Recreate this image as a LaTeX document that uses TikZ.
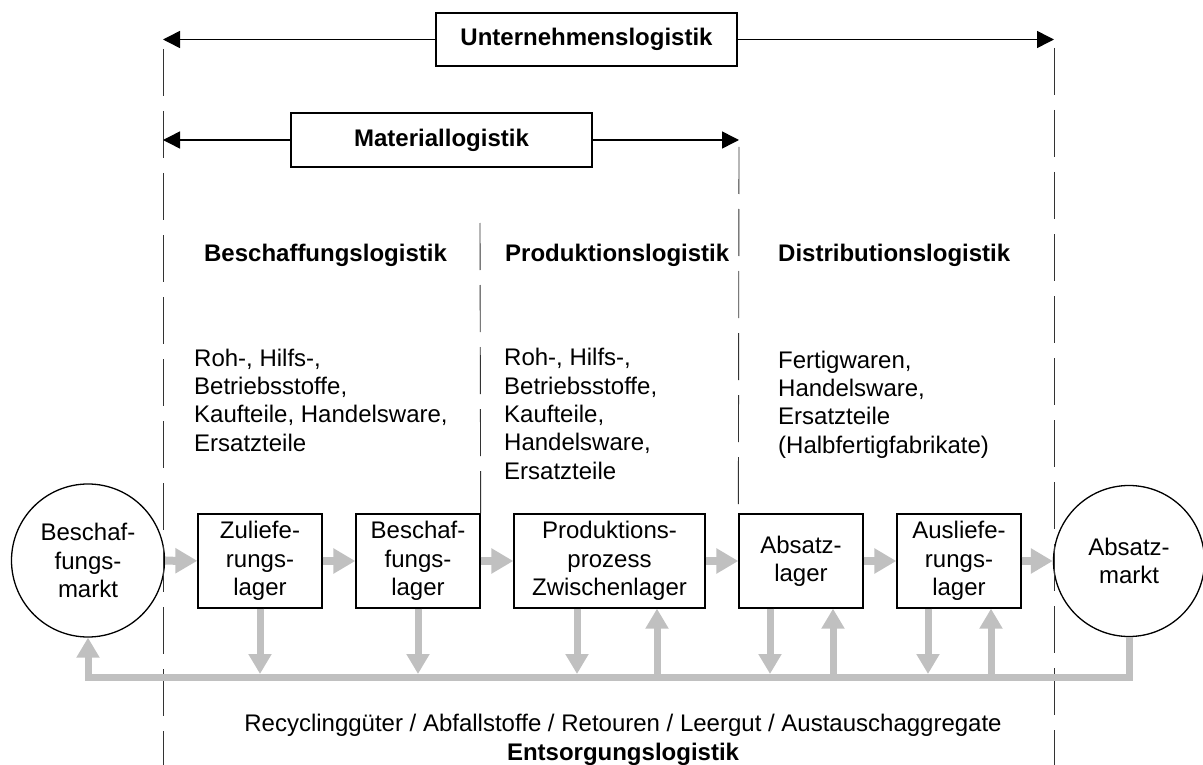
\documentclass[tikz,border=0pt]{standalone}
\usepackage{fontspec}
\setmainfont{Liberation Sans}
\usetikzlibrary{arrows.meta}
\definecolor{flowgray}{RGB}{192,192,192}
\begin{document}
\begin{tikzpicture}[x=1pt,y=-1pt,
  every node/.style={font=\fontsize{24}{28.3}\selectfont, inner sep=0pt},
  lbox/.style={draw, line width=1.3pt, minimum height=94pt, align=center},
  mkt/.style={draw, circle, line width=1.3pt, minimum size=153pt, align=center},
  titlebox/.style={draw, line width=1.3pt, minimum width=301pt, minimum height=53pt, font=\fontsize{24}{28}\selectfont\bfseries},
  span/.style={line width=1.5pt, -{Triangle[length=17pt,width=17pt]}},
  divider/.style={line width=0.9pt, black!80, dash pattern=on 47pt off 15pt},
  flow/.style={flowgray, line width=8pt, -{Triangle[length=22pt,width=24pt]}},
  ret/.style={flowgray, line width=7pt, -{Triangle[length=20pt,width=22pt]}},
  heading/.style={font=\fontsize{24}{28}\selectfont\bfseries},
  plain/.style={align=left}]

\useasboundingbox (0,0) rectangle (1203,765);

% dividers
\coordinate (dLt) at (163,49);
\coordinate (dLb) at (163,765);
\coordinate (dRt) at (1054,48);
\coordinate (dRb) at (1054,765);
\coordinate (dMt) at (739,147);
\coordinate (dBt) at (480,223);

% title boxes
\node[titlebox] (ul) at (586.5,39.5) {Unternehmenslogistik};
\node[titlebox, minimum height=54pt] (ml) at (441.5,140) {Materiallogistik};

% process boxes
\node[lbox, minimum width=124pt] (zl) at (260,561) {Zuliefe-\\rungs-\\lager};
\node[lbox, minimum width=124pt] (bl) at (418,561) {Beschaf-\\fungs-\\lager};
\node[lbox, minimum width=191pt] (pp) at (609.5,561) {Produktions-\\prozess\\Zwischenlager};
\node[lbox, minimum width=124pt] (ab) at (801,561) {Absatz-\\lager};
\node[lbox, minimum width=124pt] (al) at (959,561) {Ausliefe-\\rungs-\\lager};
\node[mkt] (bm) at (88,560.5) {Beschaf-\\fungs-\\markt};
\node[mkt, minimum size=151pt] (am) at (1129,561) {Absatz-\\markt};

\draw[divider] (dLt) -- (dLb);
\draw[divider] (dRt) -- (dRb);
\draw[divider] (dMt) -- (ab.north west);
\draw[divider] (dBt) -- (bl.north east);

% span arrows
\draw[span] (ul.west) -- (ul.west -| dLt);
\draw[span] (ul.east) -- (ul.east -| dRt);
\draw[span] (ml.west) -- (ml.west -| dLt);
\draw[span] (ml.east) -- (ml.east -| dMt);

% headings
\node[heading] (hb) at (325.5,255) {Beschaffungslogistik};
\node[heading, anchor=west] (hp) at (505,255) {Produktionslogistik};
\node[heading, anchor=west] (hd) at (778,255) {Distributionslogistik};

% descriptions
\node[plain, anchor=west] (tb) at (194,400) {Roh-, Hilfs-,\\Betriebsstoffe,\\Kaufteile, Handelsware,\\Ersatzteile};
\node[plain, anchor=west] (tp) at (504,414) {Roh-, Hilfs-,\\Betriebsstoffe,\\Kaufteile,\\Handelsware,\\Ersatzteile};
\node[plain, anchor=west] (td) at (778,404.5) {Fertigwaren,\\Handelsware,\\Ersatzteile\\(Halbfertigfabrikate)};

% material flow
\draw[flow] (bm) -- (zl);
\draw[flow] (zl) -- (bl);
\draw[flow] (bl) -- (pp);
\draw[flow] (pp) -- (ab);
\draw[flow] (ab) -- (al);
\draw[flow] (al) -- (am);

% return bus
\coordinate (busL) at (88,677);
\coordinate (busT) at (88,674);
\draw[flowgray, line width=7pt, -{Triangle[length=20pt,width=22pt]}]
  (am.south) -- (am.south |- busL) -- (busL) -- (bm.south);
\draw[ret] (zl.south) -- (zl.south |- busT);
\draw[ret] (bl.south) -- (bl.south |- busT);
\draw[ret] ([xshift=-32.5pt]pp.south) -- ([xshift=-32.5pt]pp.south |- busT);
\draw[ret] ([xshift=47.5pt]pp.south |- busL) -- ([xshift=47.5pt]pp.south);
\draw[ret] ([xshift=-31pt]ab.south) -- ([xshift=-31pt]ab.south |- busT);
\draw[ret] ([xshift=32pt]ab.south |- busL) -- ([xshift=32pt]ab.south);
\draw[ret] ([xshift=-31pt]al.south) -- ([xshift=-31pt]al.south |- busT);
\draw[ret] ([xshift=32pt]al.south |- busL) -- ([xshift=32pt]al.south);

% bottom labels
\node (rt) at (623,725) {Recyclinggüter / Abfallstoffe / Retouren / Leergut / Austauschaggregate};
\node[heading] (el) at (623,754) {Entsorgungslogistik};
\end{tikzpicture}
\end{document}
